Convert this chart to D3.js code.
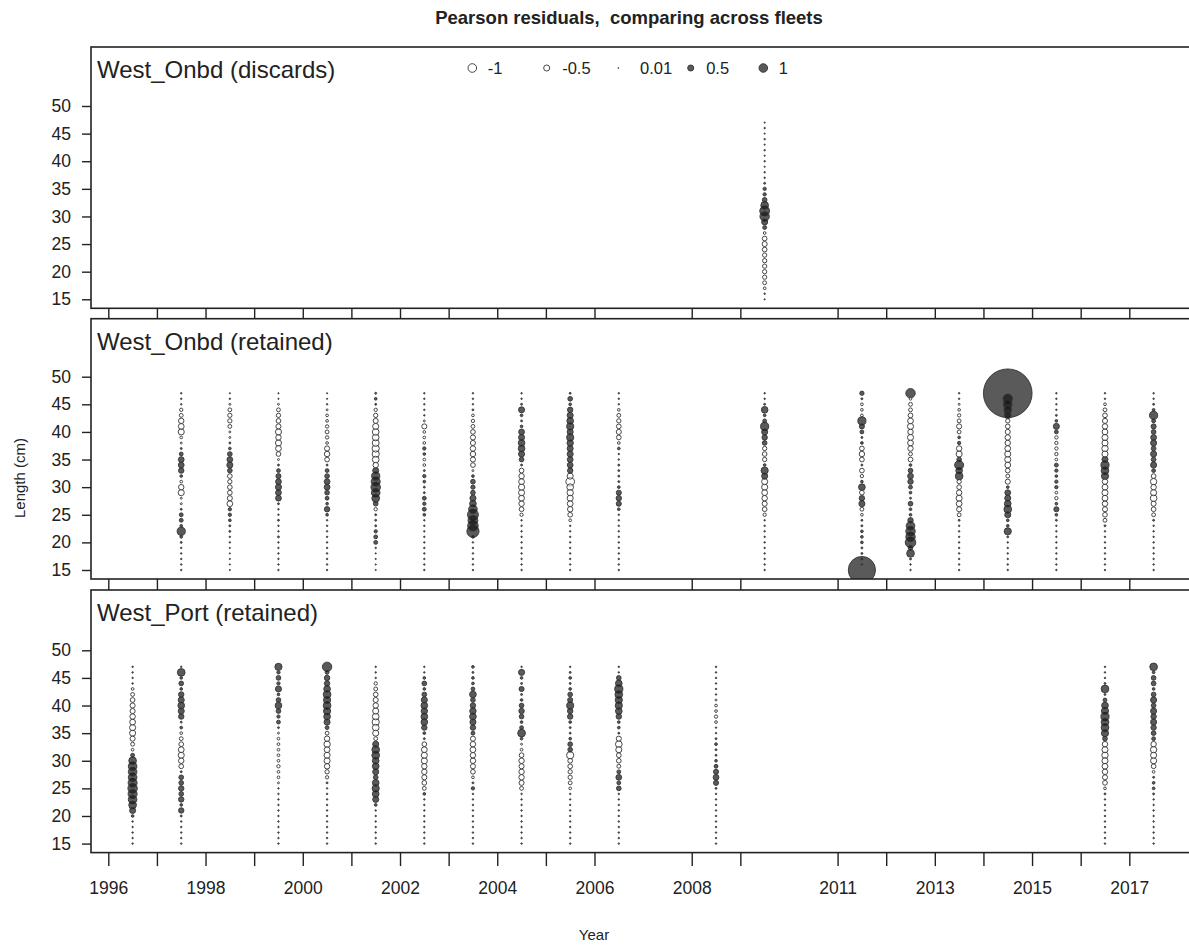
<!DOCTYPE html>
<html>
<head>
<meta charset="utf-8">
<script src="https://cdn.jsdelivr.net/npm/d3@7"></script>
<style>
  body { margin: 0; background: #fff; }
  svg { display: block; font-family: 'Liberation Sans', Arial, sans-serif; }
</style>
</head>
<body>
<svg id="chart" width="1189" height="949"></svg>
<script>
// length bins (cm), one residual per bin in every column
var lengthBins = [15, 16, 17, 18, 19, 20, 21, 22, 23, 24, 25, 26, 27, 28, 29, 30, 31,
  32, 33, 34, 35, 36, 37, 38, 39, 40, 41, 42, 43, 44, 45, 46, 47];
var lengthTicks = [15, 20, 25, 30, 35, 40, 45, 50];
var yearTicks = [1996, 1997, 1998, 1999, 2000, 2001, 2002, 2003, 2004, 2005, 2006,
  2008, 2009, 2011, 2012, 2013, 2014, 2015, 2016, 2017];
var yearLabels = [1996, 1998, 2000, 2002, 2004, 2006, 2008, 2011, 2013, 2015, 2017];
var legendValues = [-1, -0.5, 0.01, 0.5, 1];
var fleetNames = ['West_Onbd (discards)', 'West_Onbd (retained)', 'West_Port (retained)'];

var discardYears = [2009];
var discardResid = [
  [0.02, 0.03, -0.1, -0.2, -0.25, -0.25, -0.25, -0.25, -0.25, -0.3,
   -0.35, -0.3, -0.1, 0.2, 0.5, 1.2, 1.3, 0.8, 0.3, 0.15,
   0.15, 0.05, 0.03, 0.03, 0.02, 0.03, 0.02, 0.03, 0.02, 0.03,
   0.02, 0.03, 0.02]
];

var onbdYears = [1997, 1998, 1999, 2000, 2001, 2002, 2003, 2004, 2005, 2006,
  2009, 2011, 2012, 2013, 2014, 2015, 2016, 2017];
var onbdResid = [
  [0.03, 0.03, 0.03, 0.03, 0.03, 0.05, 0.1, 0.9, 0.1, 0.2,
   0.2, 0.05, -0.05, -0.05, -0.5, -0.4, -0.1, 0.1, 0.4, 0.45,
   0.45, 0.2, 0.05, -0.05, -0.1, -0.5, -0.45, -0.4, -0.2, -0.15,
   0.03, 0.03, 0.03],
  [0.02, 0.02, 0.02, 0.02, 0.02, 0.03, 0.03, 0.05, 0.05, 0.1,
   0.15, 0.15, -0.45, -0.35, -0.3, -0.3, -0.25, -0.3, 0.3, 0.5,
   0.45, 0.3, 0.1, 0.05, -0.05, -0.05, -0.2, -0.25, -0.25, -0.2,
   -0.05, 0.03, 0.02],
  [0.03, 0.03, 0.03, 0.03, 0.03, 0.03, 0.05, 0.03, 0.03, 0.05,
   0.03, 0.03, 0.05, 0.45, 0.45, 0.5, 0.45, 0.35, 0.2, 0.05,
   -0.05, -0.3, -0.45, -0.5, -0.4, -0.5, -0.35, -0.3, -0.25, -0.2,
   -0.05, 0.02, 0.02],
  [0.03, 0.03, 0.03, 0.03, 0.03, 0.03, 0.03, 0.03, 0.03, 0.03,
   0.1, 0.4, 0.1, 0.2, 0.3, 0.45, 0.45, 0.3, 0.2, 0.05,
   -0.3, -0.4, -0.35, -0.1, -0.15, -0.2, -0.15, -0.1, -0.1, -0.05,
   0.03, 0.02, 0.02],
  [0.02, 0.02, 0.02, 0.02, 0.03, 0.2, 0.2, 0.15, 0.05, 0.05,
   0.05, -0.15, 0.3, 0.8, 1.0, 1.2, 1.1, 0.9, 0.5, -0.4,
   -0.6, -0.7, -0.7, -0.65, -0.6, -0.6, -0.5, -0.35, -0.25, -0.15,
   0.05, 0.1, 0.05],
  [0.03, 0.03, 0.03, 0.03, 0.03, 0.03, 0.03, 0.03, 0.03, 0.03,
   0.1, 0.2, 0.15, 0.2, 0.05, 0.05, 0.1, 0.15, 0.05, -0.1,
   -0.1, 0.1, 0.15, -0.1, -0.1, -0.1, -0.35, -0.05, 0.03, 0.03,
   0.03, 0.03, 0.03],
  [0.03, 0.03, 0.03, 0.03, 0.03, 0.03, 0.1, 2.0, 1.5, 1.3,
   1.6, 1.0, 0.6, 0.5, 0.3, 0.25, 0.3, 0.1, -0.05, -0.3,
   -0.35, -0.4, -0.4, -0.35, -0.35, -0.3, -0.2, -0.15, -0.1, 0.05,
   0.03, 0.03, 0.03],
  [0.03, 0.03, 0.03, 0.03, 0.03, 0.03, 0.03, 0.03, 0.03, 0.03,
   -0.15, -0.3, -0.4, -0.45, -0.5, -0.5, -0.45, -0.4, -0.3, 0.05,
   0.3, 0.5, 0.6, 0.6, 0.5, 0.45, 0.1, 0.05, 0.1, 0.5,
   0.05, 0.03, 0.03],
  [0.03, 0.03, 0.03, 0.03, 0.03, 0.03, 0.03, 0.03, 0.03, -0.1,
   -0.3, -0.4, -0.45, -0.5, -0.55, -0.6, -1.0, -0.5, 0.4, 0.45,
   0.45, 0.5, 0.5, 0.55, 0.7, 0.5, 0.7, 0.6, 0.5, 0.4,
   0.1, 0.3, 0.05],
  [0.03, 0.03, 0.03, 0.03, 0.03, 0.03, 0.03, 0.03, 0.03, 0.03,
   0.03, 0.1, 0.35, 0.4, 0.35, 0.1, 0.05, 0.05, 0.05, 0.05,
   0.03, 0.03, 0.1, -0.1, -0.3, -0.35, -0.3, -0.25, -0.2, -0.1,
   0.03, 0.03, 0.03],
  [0.03, 0.03, 0.03, 0.03, 0.03, 0.03, 0.03, 0.03, 0.03, 0.03,
   -0.15, -0.3, -0.35, -0.4, -0.45, -0.5, -0.5, 0.5, 0.7, 0.1,
   -0.25, -0.3, -0.25, 0.3, 0.4, 0.5, 0.9, 0.2, 0.1, 0.6,
   0.05, 0.03, 0.03],
  [10, 0.03, 0.05, 0.05, 0.05, 0.1, 0.1, 0.1, 0.05, 0.05,
   -0.1, -0.2, 0.5, 0.4, -0.3, 0.6, 0.1, -0.15, -0.3, 0.05,
   -0.3, -0.4, -0.3, 0.1, 0.05, 0.2, 0.35, 0.9, -0.1, -0.1,
   -0.1, 0.05, 0.25],
  [0.03, 0.03, 0.05, 0.8, 0.3, 1.5, 1.2, 1.2, 1.0, 0.4,
   0.1, 0.1, 0.3, 0.05, 0.1, 0.2, 0.4, 0.45, 0.3, 0.1,
   -0.3, -0.2, -0.4, -0.45, -0.5, -0.4, -0.5, -0.45, -0.3, -0.2,
   -0.2, -0.1, 1.2],
  [0.03, 0.03, 0.03, 0.03, 0.03, 0.03, 0.03, 0.03, 0.03, 0.05,
   -0.2, -0.35, -0.45, -0.5, -0.4, -0.3, -0.25, 0.8, 0.6, 1.1,
   0.3, -0.5, -0.4, 0.15, 0.1, -0.2, -0.35, -0.2, -0.15, -0.1,
   -0.05, 0.03, 0.03],
  [0.03, 0.03, 0.03, 0.03, 0.03, 0.03, 0.05, 0.7, 0.1, 0.1,
   0.5, 0.8, 0.6, 0.5, 0.45, 0.1, -0.35, -0.2, -0.3, -0.45,
   -0.5, -0.5, -0.45, -0.4, -0.4, -0.35, -0.3, -0.25, 0.6, 0.8,
   1.0, 1.2, 32],
  [0.03, 0.03, 0.03, 0.03, 0.03, 0.03, 0.03, 0.03, 0.03, 0.05,
   0.1, 0.35, 0.1, -0.15, -0.1, 0.15, 0.15, 0.1, 0.15, 0.2,
   -0.1, -0.15, -0.15, -0.15, -0.15, 0.2, 0.5, 0.1, 0.05, 0.03,
   0.03, 0.03, 0.03],
  [0.03, 0.03, 0.03, 0.03, 0.03, 0.03, 0.03, 0.03, 0.05, -0.2,
   -0.3, -0.35, -0.4, -0.45, -0.5, -0.45, -0.4, 0.7, 0.8, 0.9,
   0.5, -0.5, -0.55, -0.5, -0.5, -0.45, -0.4, -0.35, -0.3, -0.2,
   -0.1, 0.03, 0.03],
  [0.03, 0.03, 0.03, 0.03, 0.03, 0.03, 0.03, 0.03, 0.03, 0.05,
   -0.2, -0.3, -0.35, -0.6, -0.5, -0.4, -0.55, -0.3, 0.2, 0.5,
   0.3, 0.5, 0.3, 0.5, 0.45, 0.3, 0.35, 0.2, 0.9, 0.1,
   0.05, 0.03, 0.03]
];

var portYears = [1996, 1997, 1999, 2000, 2001, 2002, 2003, 2004, 2005, 2006,
  2008, 2016, 2017];
var portResid = [
  [0.03, 0.03, 0.03, 0.03, 0.03, 0.1, 0.5, 0.8, 1.0, 1.1,
   1.2, 1.1, 1.0, 1.0, 1.0, 0.8, 0.2, -0.1, -0.2, -0.35,
   -0.5, -0.5, -0.45, -0.4, -0.35, -0.35, -0.3, -0.2, -0.1, 0.03,
   0.03, 0.03, 0.03],
  [0.03, 0.03, 0.03, 0.03, 0.03, 0.05, 0.4, 0.1, 0.4, 0.3,
   0.4, 0.3, 0.3, 0.05, -0.3, -0.4, -0.5, -0.45, -0.3, -0.2,
   -0.1, 0.1, 0.05, 0.4, 0.5, 0.6, 0.5, 0.4, 0.1, 0.3,
   0.1, 0.8, 0.03],
  [0.03, 0.03, 0.03, 0.03, 0.03, 0.03, 0.03, 0.03, 0.03, 0.03,
   0.03, -0.05, -0.1, -0.1, -0.15, -0.1, -0.1, -0.1, -0.1, -0.1,
   -0.05, 0.05, 0.2, 0.15, 0.3, 0.6, 0.3, 0.1, 0.5, 0.15,
   0.3, 0.15, 0.7],
  [0.03, 0.03, 0.03, 0.03, 0.03, 0.03, 0.03, 0.03, 0.03, 0.03,
   0.03, 0.05, -0.15, -0.25, -0.4, -0.5, -0.5, -0.45, -0.55, -0.4,
   -0.2, 0.2, 0.5, 0.6, 0.7, 0.8, 0.7, 0.8, 0.6, 0.4,
   0.4, 0.2, 1.2],
  [0.03, 0.03, 0.03, 0.03, 0.03, 0.03, 0.03, 0.1, 0.5, 0.6,
   0.7, 0.6, 0.3, 0.5, 0.6, 0.6, 0.8, 0.8, 0.5, -0.2,
   -0.5, -0.6, -0.7, -0.6, -0.5, -0.4, -0.35, -0.3, -0.2, -0.15,
   0.03, 0.03, 0.03],
  [0.03, 0.03, 0.03, 0.03, 0.03, 0.03, 0.03, 0.03, 0.03, 0.1,
   -0.2, -0.3, -0.35, -0.4, -0.4, -0.5, -0.5, -0.45, -0.3, 0.05,
   0.1, 0.4, 0.6, 0.6, 0.55, 0.6, 0.5, 0.3, 0.1, 0.3,
   0.1, 0.03, 0.03],
  [0.03, 0.03, 0.03, 0.03, 0.03, 0.03, 0.03, 0.03, 0.03, 0.03,
   0.15, 0.05, -0.1, -0.3, -0.35, -0.4, -0.4, -0.45, -0.4, -0.35,
   0.2, 0.4, 0.5, 0.6, 0.55, 0.4, 0.3, 0.6, 0.2, 0.1,
   0.1, 0.05, 0.1],
  [0.03, 0.03, 0.03, 0.03, 0.03, 0.03, 0.03, 0.03, 0.03, 0.03,
   -0.2, -0.35, -0.4, -0.4, -0.35, -0.4, -0.3, -0.1, -0.05, 0.1,
   0.8, 0.2, 0.1, 0.3, 0.4, 0.3, 0.1, 0.05, 0.35, 0.05,
   0.1, 0.5, 0.03],
  [0.03, 0.03, 0.03, 0.03, 0.03, 0.03, 0.03, 0.03, 0.03, 0.03,
   -0.1, -0.2, -0.25, -0.25, -0.3, -0.3, -0.7, 0.3, 0.3, 0.1,
   0.05, 0.05, 0.1, 0.4, 0.4, 0.7, 0.35, 0.3, 0.1, 0.05,
   0.1, 0.05, 0.03],
  [0.03, 0.03, 0.03, 0.03, 0.03, 0.03, 0.03, 0.03, 0.03, 0.03,
   0.3, 0.2, 0.45, 0.2, -0.2, -0.3, -0.3, -0.5, -0.6, -0.35,
   0.05, 0.1, 0.1, 0.4, 0.6, 0.7, 0.7, 0.8, 0.9, 0.6,
   0.3, 0.03, 0.03],
  [0.03, 0.03, 0.03, 0.03, 0.03, 0.03, 0.03, 0.03, 0.03, 0.03,
   0.05, 0.35, 0.45, 0.35, 0.2, 0.1, 0.05, 0.05, 0.1, 0.05,
   0.03, 0.03, -0.1, -0.15, -0.1, -0.1, -0.05, 0.03, 0.03, 0.03,
   0.03, 0.03, 0.03],
  [0.03, 0.03, 0.03, 0.03, 0.03, 0.03, 0.03, 0.03, 0.03, 0.05,
   -0.1, -0.3, -0.35, -0.4, -0.45, -0.5, -0.55, -0.5, -0.4, 0.3,
   0.7, 0.8, 0.8, 0.9, 0.7, 0.6, 0.2, 0.05, 0.8, 0.05,
   0.03, 0.03, 0.03],
  [0.03, 0.03, 0.03, 0.03, 0.03, 0.03, 0.03, 0.03, 0.03, 0.05,
   0.1, 0.1, 0.05, -0.1, -0.3, -0.5, -0.5, -0.55, -0.4, 0.2,
   0.3, 0.4, 0.5, 0.4, 0.5, 0.3, 0.5, 0.3, 0.1, 0.3,
   0.3, 0.1, 0.8]
];

var fleetYears = [discardYears, onbdYears, portYears];
var fleetResid = [discardResid, onbdResid, portResid];

var panelTops = [47, 318.7, 590];
var panelBottoms = [308.3, 579, 852.6];
var panelLeft = 91;
var panelRight = 1192;

var POS_FILL = 'rgba(20,20,20,0.7)';
var NEG_FILL = 'rgba(255,255,255,0.5)';
var STROKE = '#333';
var INK = '#222';
var FONT = "'Liberation Sans', Arial, sans-serif";

var svg = d3.select('#chart');

var x = d3.scaleLinear().domain([1996, 2017]).range([108.3, 1129.3]);
var r = d3.scaleSqrt().domain([0, 1]).range([0, 4.3]);

svg.append('text')
    .attr('x', 629)
    .attr('y', 24)
    .attr('text-anchor', 'middle')
    .style('font-size', '18.5px')
    .style('font-weight', 'bold')
    .style('white-space', 'pre')
    .attr('fill', INK)
    .text('Pearson residuals,  comparing across fleets');

function drawPanel(p) {
  var top = panelTops[p];
  var bottom = panelBottoms[p];
  var y = d3.scaleLinear().domain([15, 50]).range([bottom - 9, bottom - 9 - 193.3]);
  var g = svg.append('g');

  // points, largest first so small ones stay visible
  var pts = [];
  fleetYears[p].forEach(function(yr, j) {
    fleetResid[p][j].forEach(function(v, i) {
      pts.push({year: yr, len: lengthBins[i], v: v});
    });
  });
  pts.sort(function(a, b) { return Math.abs(b.v) - Math.abs(a.v); });

  g.append('clipPath').attr('id', 'clip' + p)
      .append('rect')
      .attr('x', panelLeft).attr('y', top)
      .attr('width', panelRight - panelLeft).attr('height', bottom - top);

  g.append('g')
      .attr('clip-path', 'url(#clip' + p + ')')
      .selectAll('circle')
      .data(pts)
      .enter()
      .append('circle')
      .attr('cx', function(d) { return x(d.year + 0.5); })
      .attr('cy', function(d) { return y(d.len); })
      .attr('r', function(d) { return r(Math.abs(d.v)); })
      .attr('fill', function(d) { return d.v < 0 ? NEG_FILL : POS_FILL; })
      .attr('stroke', STROKE)
      .attr('stroke-width', 0.9);

  g.append('rect')
      .attr('x', panelLeft).attr('y', top)
      .attr('width', panelRight - panelLeft).attr('height', bottom - top)
      .attr('fill', 'none')
      .attr('stroke', INK)
      .attr('stroke-width', 1.6);

  var yAxis = g.append('g')
      .attr('transform', 'translate(' + panelLeft + ',0)')
      .call(d3.axisLeft(y).tickValues(lengthTicks).tickSize(9).tickPadding(11));
  yAxis.select('.domain').remove();
  yAxis.selectAll('line').attr('stroke', INK).attr('stroke-width', 1.4);
  yAxis.selectAll('text')
      .attr('fill', INK)
      .style('font-size', '17.5px')
      .style('font-family', FONT);

  g.append('text')
      .attr('x', 97)
      .attr('y', top + 31)
      .attr('fill', INK)
      .style('font-size', '24px')
      .text(fleetNames[p]);

  // ticks between this panel and the next (or below the last)
  var gap = p < 2 ? panelTops[p + 1] - bottom : 13.5;
  var xAxis = g.append('g')
      .attr('transform', 'translate(0,' + bottom + ')')
      .call(d3.axisBottom(x)
          .tickValues(yearTicks)
          .tickSize(gap)
          .tickSizeOuter(0)
          .tickPadding(15)
          .tickFormat(function(d) {
            return p == 2 && yearLabels.indexOf(d) >= 0 ? d : '';
          }));
  xAxis.select('.domain').remove();
  xAxis.selectAll('line').attr('stroke', INK).attr('stroke-width', 1.4);
  xAxis.selectAll('text')
      .attr('fill', INK)
      .style('font-size', '17.5px')
      .style('font-family', FONT);
}

for (var p = 0; p < 3; p++)
  drawPanel(p);

// legend in the top panel
var legendX = [472.3, 546.7, 618.3, 690.7, 763.3];
var legendG = svg.append('g');
legendValues.forEach(function(v, i) {
  legendG.append('circle')
      .attr('cx', legendX[i])
      .attr('cy', 68)
      .attr('r', r(Math.abs(v)))
      .attr('fill', v < 0 ? NEG_FILL : POS_FILL)
      .attr('stroke', STROKE)
      .attr('stroke-width', 0.9);
  legendG.append('text')
      .attr('x', legendX[i] + (v == 0.01 ? 21.7 : 15.5))
      .attr('y', 74)
      .attr('fill', INK)
      .style('font-size', '16.5px')
      .text(v);
});

svg.append('text')
    .attr('transform', 'translate(25,478) rotate(-90)')
    .attr('text-anchor', 'middle')
    .attr('fill', INK)
    .style('font-size', '15px')
    .text('Length (cm)');

svg.append('text')
    .attr('x', 594)
    .attr('y', 940)
    .attr('text-anchor', 'middle')
    .attr('fill', INK)
    .style('font-size', '15px')
    .text('Year');
</script>
</body>
</html>
